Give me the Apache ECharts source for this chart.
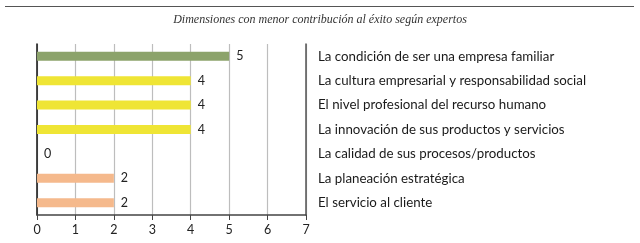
<!DOCTYPE html>
<html><head><meta charset="utf-8">
<script src="https://cdn.jsdelivr.net/npm/echarts@6/dist/echarts.min.js"></script>
<style>html,body{margin:0;padding:0;background:#fff}#c{width:640px;height:243px}</style>
</head><body><div id="c"></div>
<script>
const title = 'Dimensiones con menor contribución al éxito según expertos';
const categories = [
  'La condición de ser una empresa familiar',
  'La cultura empresarial y responsabilidad social',
  'El nivel profesional del recurso humano',
  'La innovación de sus productos y servicios',
  'La calidad de sus procesos/productos',
  'La planeación estratégica',
  'El servicio al cliente'
];
const values = [5, 4, 4, 4, 0, 2, 2];
const barColors = ['#8ca36b', '#efe535', '#efe535', '#efe535', '#efe535', '#f5b98c', '#f5b98c'];
const xTicks = [0, 1, 2, 3, 4, 5, 6, 7];

const chart = echarts.init(document.getElementById('c'), null, {renderer: 'canvas'});
const labelFont = 'Lato';
chart.setOption({
  animation: false,
  graphic: [
    {type: 'line', shape: {x1: 5, y1: 6.5, x2: 634, y2: 6.5}, style: {stroke: '#555', lineWidth: 1.2}},
    {type: 'text', left: 'center', top: 14, style: {text: title, font: 'italic 12px "Liberation Serif"', fill: '#333'}}
  ],
  grid: {left: 37, right: 334, top: 44, bottom: 28, containLabel: false},
  xAxis: {
    type: 'value', min: xTicks[0], max: xTicks[xTicks.length - 1], interval: 1,
    axisLine: {show: true, lineStyle: {color: '#444', width: 1.5}},
    axisTick: {show: true, length: 5, lineStyle: {color: '#444'}},
    axisLabel: {margin: 8, fontSize: 12.5, color: '#222', fontFamily: labelFont},
    splitLine: {show: true, lineStyle: {color: '#bdbdbd', width: 1.2}}
  },
  yAxis: [
    {type: 'category', data: categories, inverse: true, position: 'left',
     axisLine: {show: true, lineStyle: {color: '#111', width: 1.5}},
     axisTick: {show: false}, axisLabel: {show: false}},
    {type: 'category', data: categories, inverse: true, position: 'right',
     axisLine: {show: true, onZero: false, lineStyle: {color: '#555', width: 1.5}},
     axisTick: {show: false},
     axisLabel: {margin: 12, fontSize: 13.3, color: '#1a1a1a', fontFamily: labelFont, align: 'left'}}
  ],
  series: [{
    type: 'bar', yAxisIndex: 0, barWidth: 9,
    data: values.map((v, i) => ({value: v, itemStyle: {color: barColors[i]}})),
    label: {show: true, position: 'right', distance: 7, fontSize: 12.5, color: '#222', fontFamily: labelFont}
  }]
});
</script></body></html>
